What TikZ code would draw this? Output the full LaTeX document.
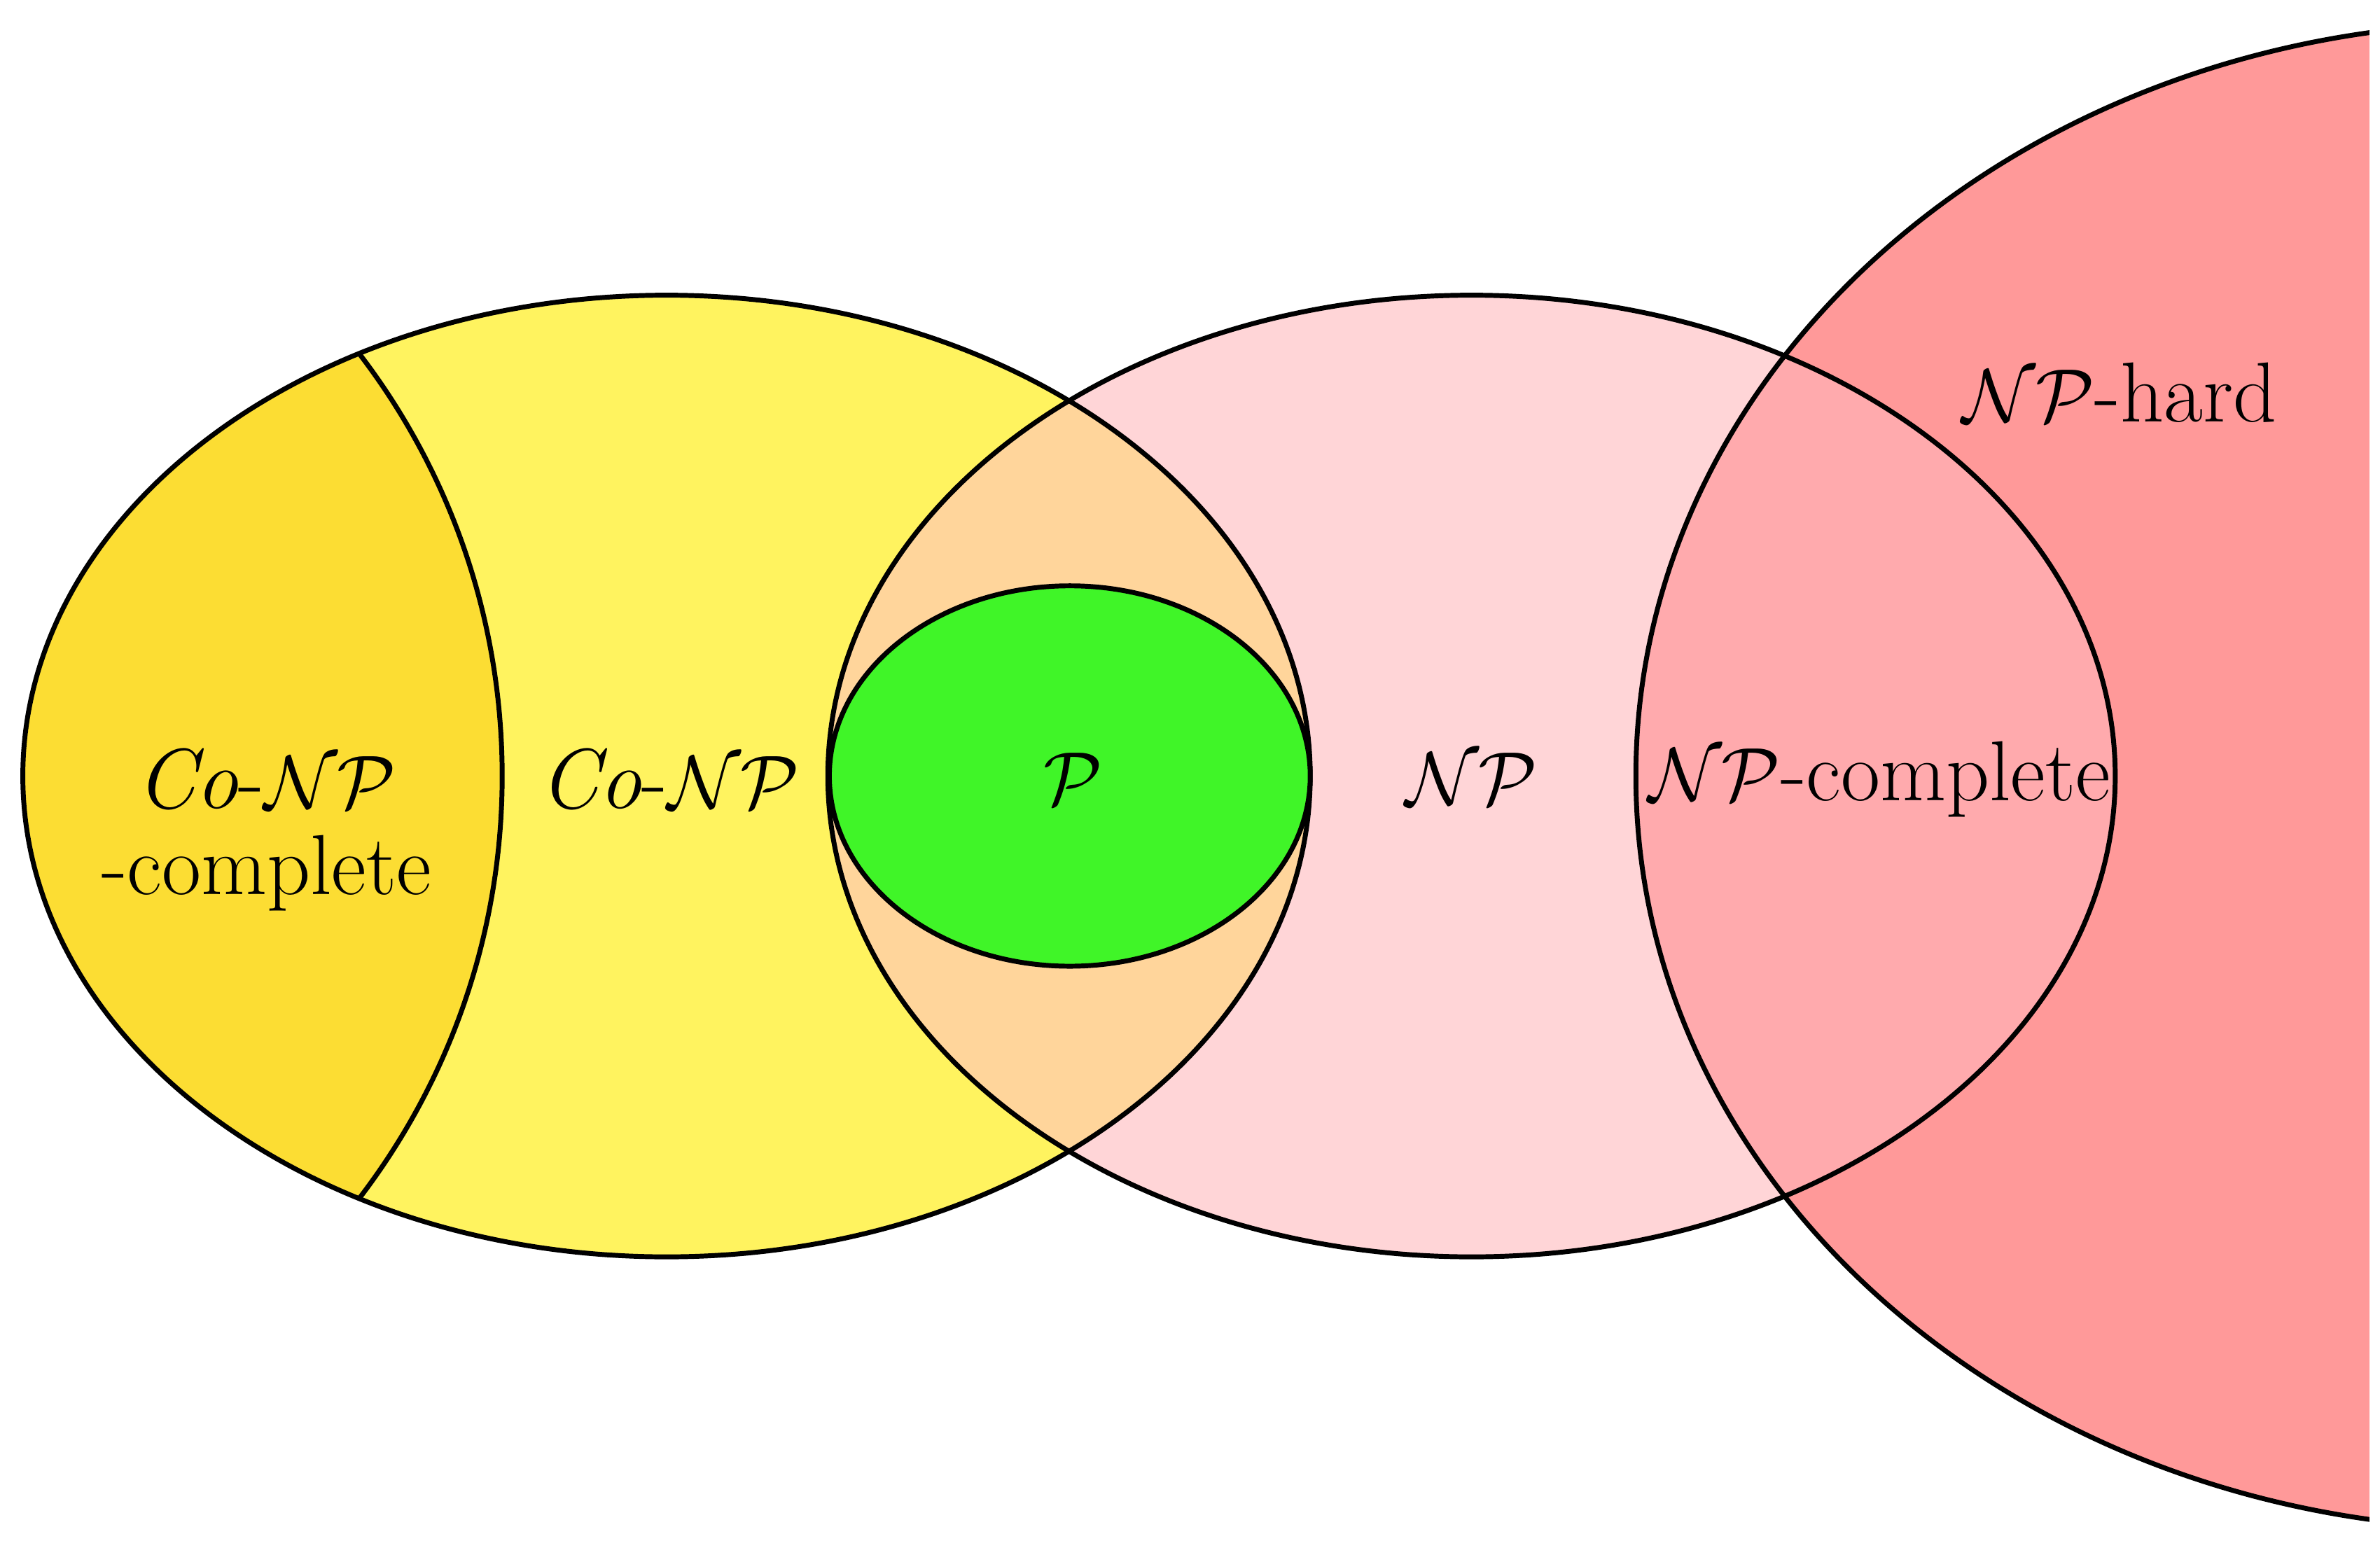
\documentclass[tikz,border=0pt]{standalone}
\begin{document}
\begin{tikzpicture}[x=0.5pt,y=-0.5pt,
  outl/.style={draw=black,line width=1.6pt},
  lbl/.style={font=\fontsize{28}{32}\selectfont,inner sep=0pt}]
\definecolor{cgold}{HTML}{FCDD33}
\definecolor{cyel}{HTML}{FFF35F}
\definecolor{corange}{HTML}{FFD59B}
\definecolor{cnp}{HTML}{FFD5D7}
\definecolor{cnpc}{HTML}{FFAAAD}
\definecolor{cnph}{HTML}{FF9999}
\definecolor{cp}{HTML}{40F528}
\fill[white] (0,0) rectangle (1564,1017);
\useasboundingbox (0,0) rectangle (1564,1017);
\clip (0,0) rectangle (1557,1017);
\def\conp{(438,510) ellipse [x radius=423,y radius=316]}
\def\np{(967,510) ellipse [x radius=423,y radius=316]}
\def\nph{(1650,510) ellipse [x radius=575,y radius=495]}
\def\arcc{(-127,510) circle [radius=457]}
\fill[cnph] \nph;
\fill[cnp] \np;
\fill[cyel] \conp;
\begin{scope}\clip \conp; \fill[corange] \np; \end{scope}
\begin{scope}\clip \np; \fill[cnpc] \nph; \end{scope}
\begin{scope}\clip \conp; \fill[cgold] \arcc; \draw[outl] \arcc; \end{scope}
\draw[outl] \nph;
\draw[outl] \np;
\draw[outl] \conp;
\draw[outl,fill=cp] (703,510) ellipse [x radius=158,y radius=125];
\node[lbl] (conpc) at (175,512) {\textit{Co}-$\mathcal{NP}$};
\node[lbl] (conpc2) at (175,574) {-complete};
\node[lbl] (conpl) at (440,512) {\textit{Co}-$\mathcal{NP}$};
\node[lbl] (pl) at (705,512) {$\mathcal{P}$};
\node[lbl] (npl) at (967,512) {$\mathcal{NP}$};
\node[lbl] (npcl) at (1235,512) {$\mathcal{NP}$-complete};
\node[lbl] (nphl) at (1393,258) {$\mathcal{NP}$-hard};
\end{tikzpicture}
\end{document}
